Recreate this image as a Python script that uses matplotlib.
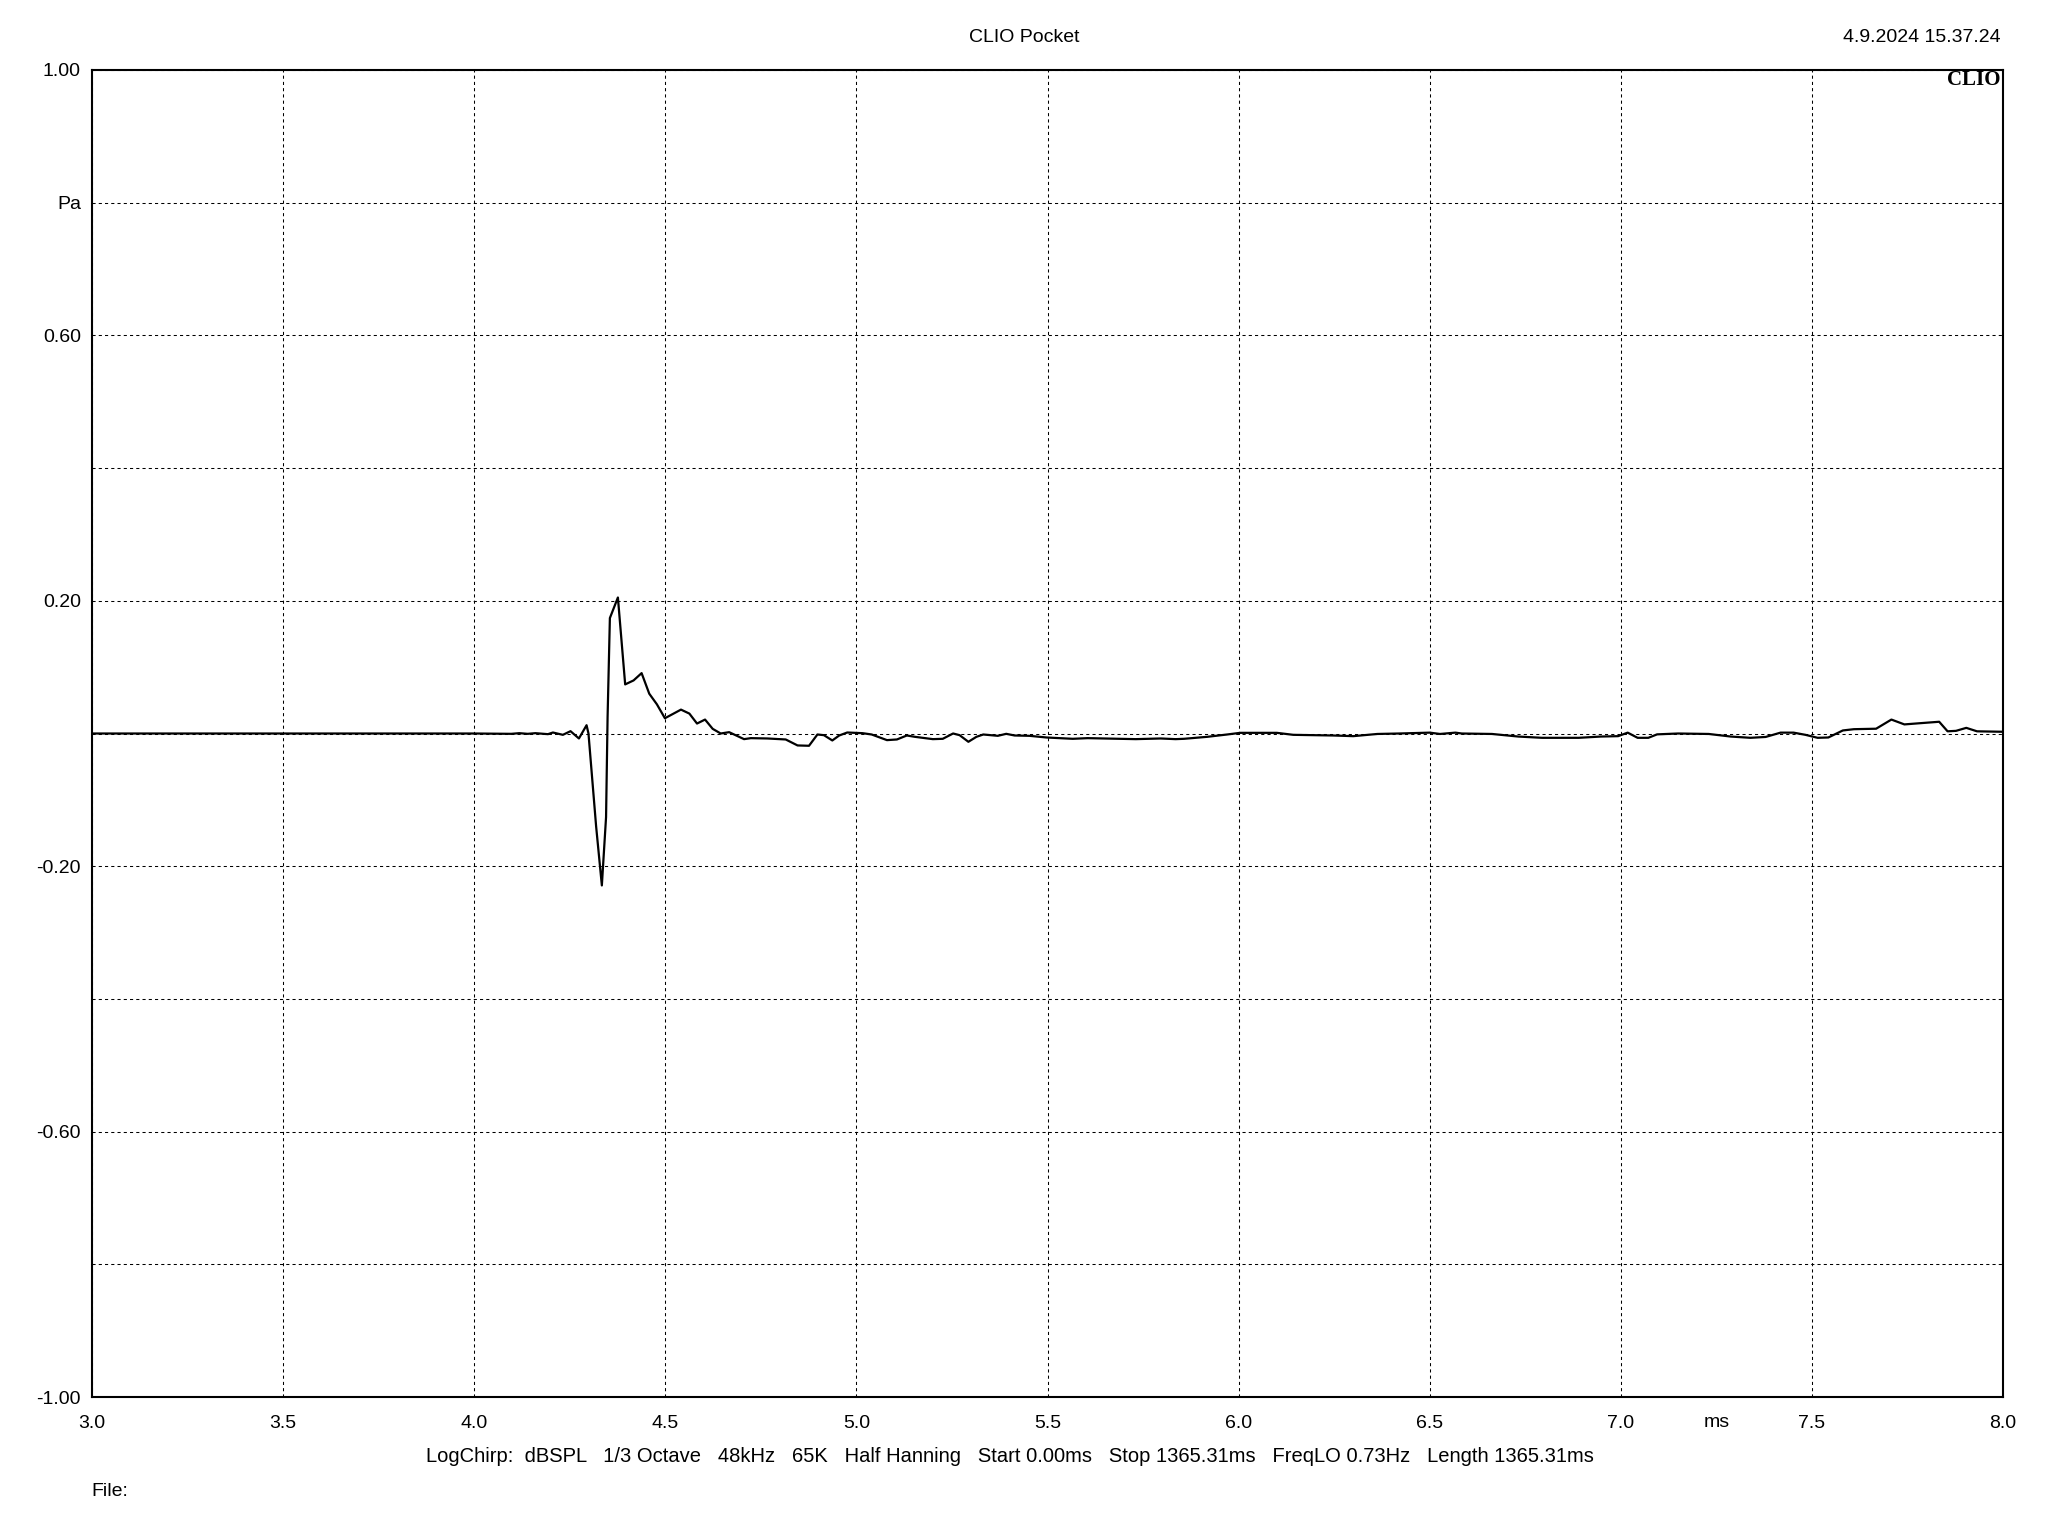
import matplotlib
matplotlib.use("Agg")
import matplotlib.pyplot as plt
import numpy as np

plt.rcParams['font.family'] = ['Liberation Sans', 'DejaVu Sans']

# impulse response (time in ms, pressure in Pa)
time_ms = [3.0, 4.0, 4.097, 4.118, 4.14, 4.16, 4.193, 4.206, 4.232, 4.252,
           4.274, 4.294, 4.299, 4.319, 4.334, 4.345, 4.349, 4.355, 4.376, 4.395,
           4.417, 4.438, 4.458, 4.478, 4.499, 4.541, 4.563, 4.583, 4.604, 4.624,
           4.645, 4.667, 4.706, 4.724, 4.767, 4.815, 4.846, 4.876, 4.898, 4.915,
           4.937, 4.955, 4.976, 5.016, 5.04, 5.08, 5.106, 5.132, 5.153, 5.2,
           5.226, 5.253, 5.27, 5.293, 5.314, 5.332, 5.37, 5.392, 5.414, 5.453,
           5.497, 5.566, 5.605, 5.688, 5.731, 5.796, 5.835, 5.857, 5.918, 5.97,
           6.004, 6.1, 6.143, 6.247, 6.3, 6.363, 6.42, 6.5, 6.527, 6.567,
           6.584, 6.663, 6.732, 6.794, 6.89, 6.947, 6.993, 7.018, 7.044, 7.072,
           7.095, 7.15, 7.23, 7.288, 7.339, 7.379, 7.418, 7.452, 7.483, 7.515,
           7.543, 7.581, 7.61, 7.668, 7.708, 7.742, 7.787, 7.833, 7.855, 7.877,
           7.904, 7.932, 8.0]
pressure = [0.0, 0.0, -0.0005, 0.0005, -0.0005, 0.0005, -0.001, 0.0015, -0.002, 0.0035,
            -0.0075, 0.0125, 0.0, -0.14, -0.229, -0.126, 0.025, 0.174, 0.205, 0.074,
            0.080, 0.091, 0.060, 0.044, 0.023, 0.036, 0.030, 0.015, 0.021, 0.007,
            0.0, 0.002, -0.0085, -0.007, -0.0075, -0.009, -0.018, -0.0185, -0.0015, -0.0025,
            -0.0105, -0.003, 0.0015, 0.0005, -0.0015, -0.010, -0.009, -0.003, -0.005, -0.0085,
            -0.008, 0.0, -0.0025, -0.0125, -0.005, -0.0015, -0.0035, -0.0005, -0.003, -0.0035,
            -0.006, -0.008, -0.007, -0.008, -0.0085, -0.0075, -0.0085, -0.008, -0.005, -0.0015,
            0.001, 0.001, -0.002, -0.003, -0.004, -0.0007, 0.0, 0.0013, -0.0007, 0.0013,
            0.0, -0.0007, -0.0046, -0.0065, -0.0065, -0.0046, -0.004, 0.0013, -0.0065, -0.0065,
            -0.0013, 0.0, -0.0007, -0.0046, -0.0065, -0.0052, 0.0013, 0.0013, -0.002, -0.0065,
            -0.006, 0.0046, 0.0065, 0.0072, 0.021, 0.0137, 0.0157, 0.0177, 0.0033, 0.004,
            0.0085, 0.0033, 0.0026]

x_ticks = [3.0, 3.5, 4.0, 4.5, 5.0, 5.5, 6.0, 6.5, 7.0, 7.5, 8.0]
y_ticks = [1.0, 0.8, 0.6, 0.4, 0.2, 0.0, -0.2, -0.4, -0.6, -0.8, -1.0]
y_labels = ['1.00', 'Pa', '0.60', '', '0.20', '', '-0.20', '', '-0.60', '', '-1.00']

footer = ("LogChirp:  dBSPL   1/3 Octave   48kHz   65K   Half Hanning   "
          "Start 0.00ms   Stop 1365.31ms   FreqLO 0.73Hz   Length 1365.31ms")

fig = plt.figure(figsize=(20.48, 15.36), dpi=100)
ax = fig.add_axes([92 / 2048, 1 - 1397 / 1536, (2003 - 92) / 2048, (1397 - 70) / 1536])

ax.plot(time_ms, pressure, color='black', lw=1.6, zorder=3)

ax.set_xlim(3.0, 8.0)
ax.set_ylim(-1.0, 1.0)
ax.set_xticks(x_ticks)
ax.set_xticklabels([f"{v:.1f}" for v in x_ticks])
ax.set_yticks(y_ticks)
ax.set_yticklabels(y_labels)
ax.tick_params(length=0, labelsize=14, colors='black')
ax.tick_params(axis='x', pad=13)
ax.tick_params(axis='y', pad=8)
ax.grid(True, color='black', lw=0.75, linestyle=(0, (3, 3)))
for s in ax.spines.values():
    s.set_linewidth(1.5)

# unit label on the x axis sits between 7.0 and 7.5, level with the tick labels
ax.text(7.25, -0.0195, 'ms', transform=ax.get_xaxis_transform(),
        ha='center', va='center', fontsize=14)

ax.text(0.9985, 1.0, 'CLIO', transform=ax.transAxes, ha='right', va='top',
        fontsize=15, fontweight='bold', family='Liberation Serif')

fig.text(1024 / 2048, 1 - 37 / 1536, 'CLIO Pocket', ha='center', va='center', fontsize=14)
fig.text(2001 / 2048, 1 - 37 / 1536, '4.9.2024 15.37.24', ha='right', va='center', fontsize=14)
fig.text(426 / 2048, 1 - 1457 / 1536, footer, ha='left', va='center', fontsize=14.5)
fig.text(91 / 2048, 1 - 1491 / 1536, 'File:', ha='left', va='center', fontsize=14)

fig.savefig('out.png', dpi=100, facecolor='white')
